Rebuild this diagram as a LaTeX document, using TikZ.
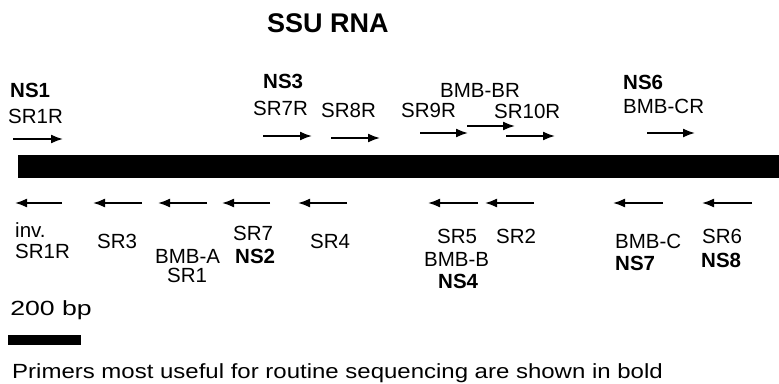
\documentclass[tikz,border=0pt]{standalone}
\usepackage{fontspec}
\setmainfont{Liberation Sans}
\usepackage{tikz}
\usetikzlibrary{arrows.meta}
\tikzset{>={Latex[length=12pt,width=9pt]}}

\begin{document}
\begin{tikzpicture}[x=1pt, y=-1pt,
    primer/.style={->, line width=1.7pt},
    lbl/.style={anchor=base west, inner sep=0pt, font=\fontsize{20.5}{24}\selectfont},
    key/.style={lbl, font=\fontsize{20.5}{24}\selectfont\bfseries}]
                \useasboundingbox (0, 0) rectangle (779, 383);
                \node[anchor=base west, inner sep=0pt, font=\fontsize{27}{30}\selectfont\bfseries] (title) at (267, 32) {SSU RNA};
                % gene
                \fill (18, 155) rectangle (779, 178);
                % forward primers
                \draw[primer] (13, 139) -- (63, 139);
                \draw[primer] (263, 136) -- (312, 136);
                \draw[primer] (331, 138) -- (380, 138);
                \draw[primer] (420, 133) -- (468, 133);
                \draw[primer] (467, 126) -- (515, 126);
                \draw[primer] (506, 136) -- (555, 136);
                \draw[primer] (647, 133) -- (695, 133);
                \node[key] (ns1) at (10, 97) {NS1};
                \node[lbl] (sr1r) at (8, 123) {SR1R};
                \node[key] (ns3) at (263, 88) {NS3};
                \node[lbl] (sr7r) at (253, 115) {SR7R};
                \node[lbl] (sr8r) at (321, 117) {SR8R};
                \node[lbl] (sr9r) at (401, 117) {SR9R};
                \node[lbl] (bmbbr) at (440, 97) {BMB-BR};
                \node[lbl] (sr10r) at (494, 118) {SR10R};
                \node[key] (ns6) at (623, 89) {NS6};
                \node[lbl] (bmbcr) at (623, 113) {BMB-CR};
                % reverse primers
                \draw[primer] (62, 203) -- (15, 203);
                \draw[primer] (142, 203) -- (93, 203);
                \draw[primer] (207, 203) -- (158, 203);
                \draw[primer] (270, 203) -- (222, 203);
                \draw[primer] (347, 203) -- (298, 203);
                \draw[primer] (478, 203) -- (428, 203);
                \draw[primer] (534, 203) -- (485, 203);
                \draw[primer] (663, 203) -- (613, 203);
                \draw[primer] (752, 203) -- (702, 203);
                \node[lbl] (inv) at (15, 237) {inv.};
                \node[lbl] (invsr1r) at (15, 258) {SR1R};
                \node[lbl] (sr3) at (97, 248) {SR3};
                \node[lbl] (bmba) at (155, 263) {BMB-A};
                \node[lbl] (sr1) at (167, 282) {SR1};
                \node[lbl] (sr7) at (233, 240) {SR7};
                \node[key] (ns2) at (235, 263) {NS2};
                \node[lbl] (sr4) at (310, 248) {SR4};
                \node[lbl] (sr5) at (437, 243) {SR5};
                \node[lbl] (sr2) at (496, 243) {SR2};
                \node[lbl] (bmbb) at (424, 266) {BMB-B};
                \node[key] (ns4) at (438, 288) {NS4};
                \node[lbl] (bmbc) at (615, 248) {BMB-C};
                \node[key] (ns7) at (615, 270) {NS7};
                \node[lbl] (sr6) at (702, 243) {SR6};
                \node[key] (ns8) at (701, 267) {NS8};
                % scale and note
                \node[lbl, xscale=1.3] (scale) at (10, 315) {200 bp};
                \fill (8, 335) rectangle (81, 345);
                \node[lbl, xscale=1.17] (note) at (12, 378) {Primers most useful for routine sequencing are shown in bold};
            \end{tikzpicture}
\end{document}
